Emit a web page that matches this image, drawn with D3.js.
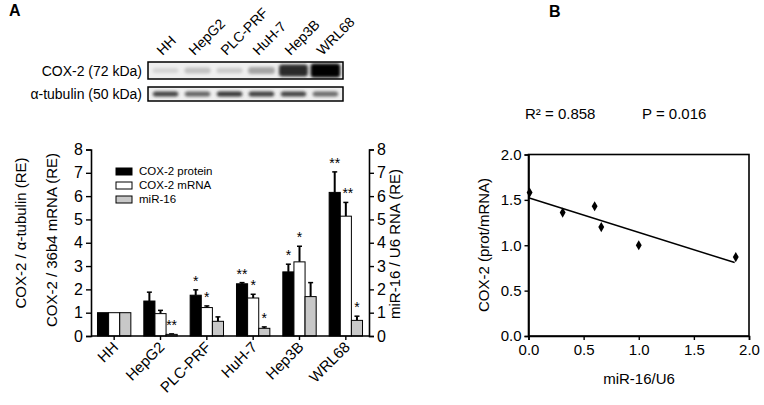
<!DOCTYPE html>
<html>
<head>
<meta charset="UTF-8">
<title>COX-2 and miR-16</title>
<style>
  body { margin: 0; background: #fff; }
  svg { display: block; font-family: Arial, "Liberation Sans", sans-serif; }
</style>
</head>
<body>
<svg id="chart" width="764" height="405"></svg>
<script src="https://cdn.jsdelivr.net/npm/d3@7"></script>
<script>
// ---- data ----
var cells = ["HH", "HepG2", "PLC-PRF", "HuH-7", "Hep3B", "WRL68"];
var seriesNames = ["COX-2 protein", "COX-2 mRNA", "miR-16"];
var protein    = [1, 1.50, 1.75, 2.24, 2.75, 6.16];
var proteinErr = [0, 0.38, 0.23, 0.05, 0.33, 0.88];
var mrna       = [1, 0.96, 1.22, 1.63, 3.18, 5.14];
var mrnaErr    = [0, 0.14, 0.07, 0.16, 0.67, 0.59];
var mir        = [1, 0.07, 0.63, 0.33, 1.69, 0.67];
var mirErr     = [0, 0.02, 0.19, 0.06, 0.60, 0.18];
var proteinSig = ["", "", "*", "**", "*", "**"];
var mrnaSig    = ["", "", "*", "*", "*", "**"];
var mirSig     = ["", "**", "", "*", "", "*"];
var yTicks = [0, 1, 2, 3, 4, 5, 6, 7, 8];

// western blot band darkness (0..1)
var cox2Band    = [0.10, 0.18, 0.14, 0.30, 0.82, 1.0];
var tubulinBand = [0.72, 0.58, 0.78, 0.74, 0.72, 0.55];

// correlation panel
var mirU6    = [0.01, 0.31, 0.60, 0.66, 1.00, 1.88];
var protMrna = [1.58, 1.36, 1.43, 1.20, 1.00, 0.87];
var scatterTicks = [0, 0.5, 1.0, 1.5, 2.0];
var r2Text = "R\u00B2 = 0.858", pText = "P = 0.016";

var svg = d3.select("#chart");
var fills = ["#000", "#fff", "#c8c8c8"];

// panel letters
svg.append("text").attr("x", 9).attr("y", 16).attr("font-size", 16).attr("font-weight", "bold").text("A");
svg.append("text").attr("x", 549).attr("y", 17).attr("font-size", 16).attr("font-weight", "bold").text("B");

// ---- western blot ----
var defs = svg.append("defs");
defs.append("filter").attr("id", "blur").attr("x", "-50%").attr("y", "-50%").attr("width", "200%").attr("height", "200%")
  .append("feGaussianBlur").attr("stdDeviation", 1.6);

var lane = d3.scaleBand().domain(cells).range([148, 343]).paddingInner(0.2).paddingOuter(0.15);

function blot(y0, h, vals, label, big, id) {
  defs.append("clipPath").attr("id", id).append("rect")
    .attr("x", 148).attr("y", y0).attr("width", 195).attr("height", h);
  svg.append("rect").attr("x", 148).attr("y", y0).attr("width", 195).attr("height", h).attr("fill", "#efefef");
  var g = svg.append("g").attr("clip-path", "url(#" + id + ")");
  g.selectAll("rect").data(vals).enter().append("rect")
    .attr("x", function(d, i) { return lane(cells[i]) - (big ? d * 2 : 0); })
    .attr("width", function(d) { return lane.bandwidth() + (big ? d * 4 : 0); })
    .attr("y", function(d) { return y0 + h / 2 - (big ? 2 + d * 5 : 2.5); })
    .attr("height", function(d) { return big ? 4 + d * 10 : 5; })
    .attr("rx", 3)
    .attr("fill", function(d) { var c = Math.round(235 - d * 235); return d3.rgb(c, c, c); })
    .attr("filter", "url(#blur)");
  svg.append("rect").attr("x", 148).attr("y", y0).attr("width", 195).attr("height", h)
    .attr("fill", "none").attr("stroke", "#000").attr("stroke-width", 1.5);
  svg.append("text").attr("x", 142).attr("y", y0 + h / 2 + 5).attr("text-anchor", "end")
    .attr("font-size", 14).text(label);
}
blot(62, 17, cox2Band, "COX-2 (72 kDa)", true, "c1");
blot(87, 14, tubulinBand, "\u03B1-tubulin (50 kDa)", false, "c2");

svg.append("g").selectAll("text").data(cells).enter().append("text")
  .attr("x", function(d) { return lane(d) + lane.bandwidth() / 2 - 3; })
  .attr("y", 56)
  .attr("transform", function(d) { return "rotate(-45," + (lane(d) + lane.bandwidth() / 2 - 3) + ",56)"; })
  .attr("font-size", 14).text(function(d) { return d; });

// ---- bar chart ----
var x0 = d3.scaleBand().domain(cells).range([91, 369]).paddingInner(0.28).paddingOuter(0.14);
var x1 = d3.scaleBand().domain(seriesNames).range([0, x0.bandwidth()]);
var y = d3.scaleLinear().domain([0, 8]).range([336, 149.5]);

var series = [
  { name: seriesNames[0], vals: protein, err: proteinErr, sig: proteinSig },
  { name: seriesNames[1], vals: mrna, err: mrnaErr, sig: mrnaSig },
  { name: seriesNames[2], vals: mir, err: mirErr, sig: mirSig }
];

series.forEach(function(s, k) {
  var g = svg.append("g");
  var rows = cells.map(function(c, i) { return { c: c, v: s.vals[i], e: s.err[i], sig: s.sig[i] }; });
  var cx = function(d) { return x0(d.c) + x1(s.name) + x1.bandwidth() / 2; };
  // error bars (upper only)
  var eb = g.selectAll("g.err").data(rows.filter(function(d) { return d.e > 0; })).enter().append("g");
  eb.append("line").attr("x1", cx).attr("x2", cx)
    .attr("y1", function(d) { return y(d.v); }).attr("y2", function(d) { return y(d.v + d.e); })
    .attr("stroke", "#000").attr("stroke-width", 2);
  eb.append("line").attr("x1", function(d) { return cx(d) - 2.5; }).attr("x2", function(d) { return cx(d) + 2.5; })
    .attr("y1", function(d) { return y(d.v + d.e); }).attr("y2", function(d) { return y(d.v + d.e); })
    .attr("stroke", "#000").attr("stroke-width", 1.5);
  g.selectAll("rect").data(rows).enter().append("rect")
    .attr("x", function(d) { return x0(d.c) + x1(s.name); })
    .attr("width", x1.bandwidth())
    .attr("y", function(d) { return y(d.v); })
    .attr("height", function(d) { return y(0) - y(d.v); })
    .attr("fill", fills[k]).attr("stroke", "#000").attr("stroke-width", 1);
  g.selectAll("text").data(rows.filter(function(d) { return d.sig; })).enter().append("text")
    .attr("x", function(d) { return cx(d) + (k === 1 && d.c === "WRL68" ? 2 : 0); })
    .attr("y", function(d) { return y(d.v + d.e) - 4; })
    .attr("text-anchor", "middle").attr("font-size", 14).attr("fill", "#000")
    .text(function(d) { return d.sig; });
});

// axes
var yl = svg.append("g").attr("transform", "translate(91,0)")
  .call(d3.axisLeft(y).tickValues(yTicks).tickSize(5).tickPadding(3).tickFormat(d3.format("d")));
var yr = svg.append("g").attr("transform", "translate(369,0)")
  .call(d3.axisRight(y).tickValues(yTicks).tickSize(5).tickPadding(3).tickFormat(d3.format("d")));
var xb = svg.append("g").attr("transform", "translate(0,336)")
  .call(d3.axisBottom(x0).tickSize(4).tickSizeOuter(0).tickFormat(""));
[yl, yr, xb].forEach(function(a) {
  a.select(".domain").attr("stroke-width", 1.6);
  a.selectAll(".tick line").attr("stroke-width", 1.4);
  a.selectAll("text").attr("font-size", 16).attr("font-family", "Arial, sans-serif");
});
xb.select(".domain").attr("d", "M91,0H369");

svg.append("g").selectAll("text").data(cells).enter().append("text")
  .attr("x", function(d) { return x0(d) + x0.bandwidth() / 2 + 5; })
  .attr("y", 348)
  .attr("transform", function(d) { return "rotate(-45," + (x0(d) + x0.bandwidth() / 2 + 5) + ",348)"; })
  .attr("text-anchor", "end").attr("font-size", 15).text(function(d) { return d; });

svg.append("text").attr("transform", "translate(26,233) rotate(-90)").attr("text-anchor", "middle")
  .attr("font-size", 15).text("COX-2 / \u03B1-tubulin (RE)");
svg.append("text").attr("transform", "translate(57,240) rotate(-90)").attr("text-anchor", "middle")
  .attr("font-size", 15).text("COX-2 / 36b4 mRNA (RE)");
svg.append("text").attr("transform", "translate(400,244) rotate(-90)").attr("text-anchor", "middle")
  .attr("font-size", 15).text("miR-16 / U6 RNA (RE)");

// legend
var lg = svg.append("g").selectAll("g").data(seriesNames).enter().append("g")
  .attr("transform", function(d, i) { return "translate(116," + (168 + i * 14) + ")"; });
lg.append("rect").attr("width", 16).attr("height", 7)
  .attr("fill", function(d, i) { return fills[i]; }).attr("stroke", "#000").attr("stroke-width", 1);
lg.append("text").attr("x", 23).attr("y", 7).attr("font-size", 11.5).text(function(d) { return d; });

// ---- scatter panel ----
var sx = d3.scaleLinear().domain([0, 2]).range([528.5, 749]);
var sy = d3.scaleLinear().domain([0, 2]).range([336, 154.5]);

svg.append("rect").attr("x", sx(0)).attr("y", sy(2)).attr("width", sx(2) - sx(0)).attr("height", sy(0) - sy(2))
  .attr("fill", "none").attr("stroke", "#000").attr("stroke-width", 1.6);
var sxa = svg.append("g").attr("transform", "translate(0," + sy(0) + ")")
  .call(d3.axisBottom(sx).tickValues(scatterTicks).tickSize(4).tickPadding(4).tickFormat(d3.format(".1f")));
var sya = svg.append("g").attr("transform", "translate(" + sx(0) + ",0)")
  .call(d3.axisLeft(sy).tickValues(scatterTicks).tickSize(4).tickPadding(3).tickFormat(d3.format(".1f")));
[sxa, sya].forEach(function(a) {
  a.select(".domain").attr("stroke-width", 1.6);
  a.selectAll(".tick line").attr("stroke-width", 1.4);
  a.selectAll("text").attr("font-size", 15).attr("font-family", "Arial, sans-serif");
});

// least-squares fit line
var mx = d3.mean(mirU6), my = d3.mean(protMrna);
var slope = d3.sum(mirU6, function(v, i) { return (v - mx) * (protMrna[i] - my); }) /
            d3.sum(mirU6, function(v) { return (v - mx) * (v - mx); });
var icpt = my - slope * mx;
var xEnd = d3.extent(mirU6);
svg.append("line")
  .attr("x1", sx(0)).attr("y1", sy(icpt))
  .attr("x2", sx(xEnd[1] - 0.01)).attr("y2", sy(icpt + slope * (xEnd[1] - 0.01)))
  .attr("stroke", "#000").attr("stroke-width", 1.5);

svg.append("g").selectAll("path").data(mirU6).enter().append("path")
  .attr("transform", function(d, i) { return "translate(" + sx(d) + "," + sy(protMrna[i]) + ")"; })
  .attr("d", d3.symbol().type(d3.symbolDiamond).size(30)).attr("fill", "#000");

svg.append("text").attr("x", 639).attr("y", 384).attr("text-anchor", "middle").attr("font-size", 15).text("miR-16/U6");
svg.append("text").attr("transform", "translate(489,245) rotate(-90)").attr("text-anchor", "middle")
  .attr("font-size", 15).text("COX-2 (prot/mRNA)");
svg.append("text").attr("x", 525).attr("y", 119).attr("font-size", 15).text(r2Text);
svg.append("text").attr("x", 642).attr("y", 119).attr("font-size", 15).text(pText);
</script>
</body>
</html>
